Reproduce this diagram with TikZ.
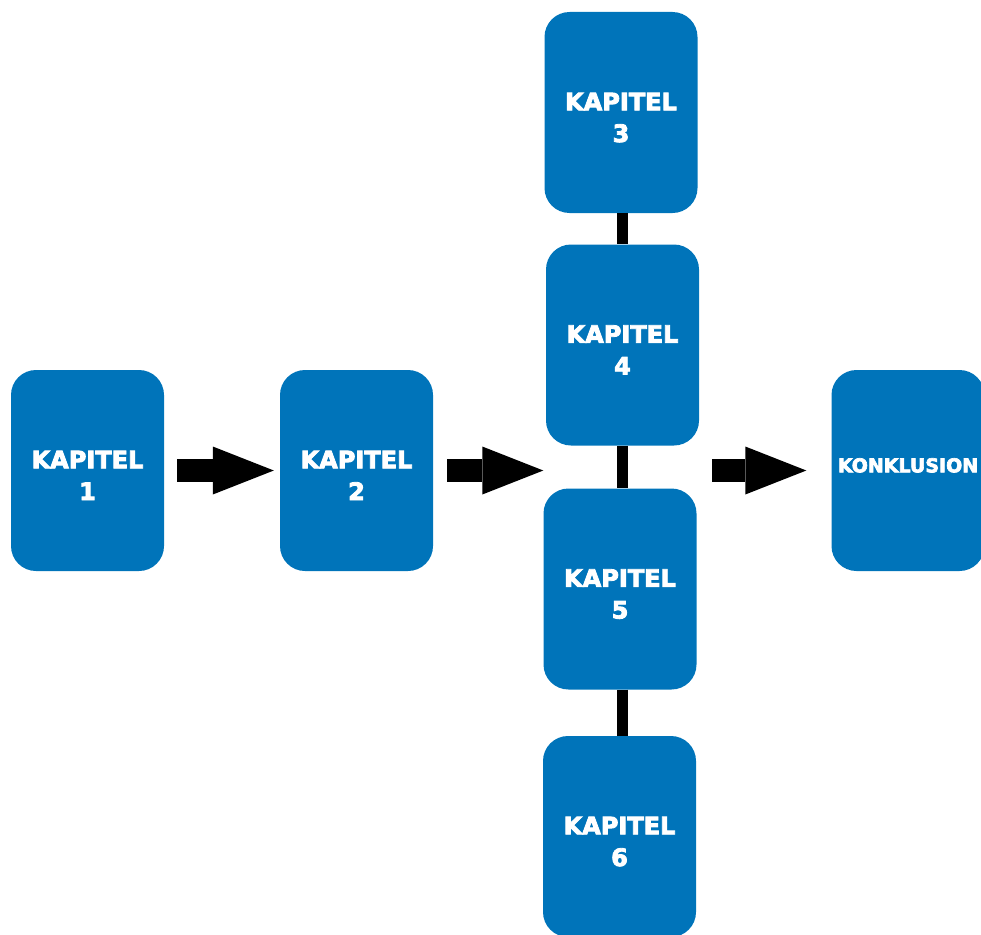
\documentclass[tikz,border=0pt]{standalone}
\usepackage{fontspec}
\setmainfont{DejaVu Sans}
\newfontfamily\heavyfont{DejaVu Sans}[BoldFeatures={FakeBold=3.5}]
\usetikzlibrary{arrows.meta}
\definecolor{kapblue}{RGB}{0,116,186}

\begin{document}
\begin{tikzpicture}[x=1pt, y=-1pt,
  chap/.style={rounded corners=25pt, fill=kapblue, text=white, align=center,
    font=\heavyfont\bfseries\fontsize{24}{31.7}\selectfont,
    text height=59pt, text depth=0pt,
    minimum width=153pt, minimum height=201pt, inner sep=0pt},
  flow/.style={line width=23pt, -{Triangle[length=61pt 0 0, width=48pt 0 0, line width=0pt]}},
  link/.style={line width=11pt}]
  \useasboundingbox (0,0) rectangle (981,934);
  % chapters: a row, then a column
  \node[chap] (k1) at (87.5,470.5) {KAPITEL\\1};
  \node[chap] (k2) at (356.5,470.5) {KAPITEL\\2};
  \node[chap] (k3) at (621,112.5) {KAPITEL\\3};
  \node[chap] (k4) at (622.5,345) {KAPITEL\\4};
  \node[chap] (k5) at (620,589) {KAPITEL\\5};
  \node[chap] (k6) at (619.5,836.5) {KAPITEL\\6};
  \node[chap, font=\heavyfont\bfseries\fontsize{19}{22}\selectfont,
    text height=14pt, text depth=10.4pt] (kon) at (908,470.5) {KONKLUSION};
  % links in the column
  \draw[link] (k3.south -| k4) -- (k4.north);
  \draw[link] (k4.south) -- (k5.north -| k4);
  \draw[link] (k5.south -| k4) -- (k6.north -| k4);
  % block arrows
  \draw[flow, shorten <=13pt, shorten >=6pt] (k1) -- (k2);
  \draw[flow, shorten <=14pt] (k2.east) -- (k2.east -| k5.west);
  \draw[flow, shorten <=13pt, shorten >=25pt] (kon.west -| k4.east) -- (kon.west);
\end{tikzpicture}
\end{document}
